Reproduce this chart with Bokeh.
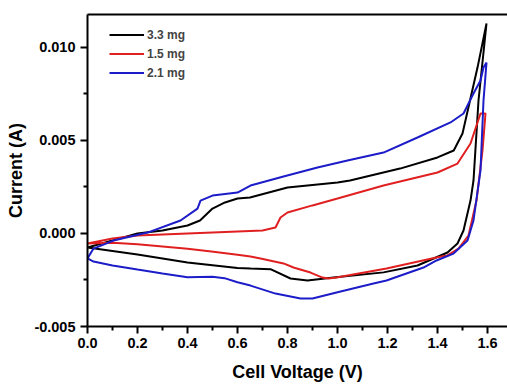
from bokeh.plotting import figure
from bokeh.models import (Range1d, FixedTicker, PrintfTickFormatter, LinearAxis,
                          Legend, LegendItem)
from bokeh.embed import file_html
from bokeh.resources import INLINE

# ---- data (Cell voltage V, current A) ----
labels = ["3.3 mg", "1.5 mg", "2.1 mg"]
colors = ["#000000", "#e02020", "#1c1cc8"]

v_33_fwd = [0, 0.1, 0.2, 0.3, 0.4, 0.45, 0.5, 0.55, 0.6, 0.65, 0.8, 1.0, 1.05, 1.25,
            1.4, 1.465, 1.5, 1.53, 1.56, 1.596]
i_33_fwd = [-0.00075, -0.00038, 0.0, 0.00016, 0.00043, 0.0007, 0.00134, 0.00167, 0.00188,
            0.00194, 0.00247, 0.00274, 0.00285, 0.00349, 0.00409, 0.00446, 0.00538,
            0.00715, 0.00892, 0.01129]
v_33_rev = [1.596, 1.564, 1.544, 1.532, 1.504, 1.48, 1.44, 1.32, 1.184, 0.984, 0.88,
            0.812, 0.732, 0.652, 0.6, 0.4, 0.2, 0.0]
i_33_rev = [0.01129, 0.00715, 0.00285, 0.00177, 0.00016, -0.00054, -0.00102, -0.00172,
            -0.00209, -0.00237, -0.00253, -0.00242, -0.00192, -0.00188, -0.00185,
            -0.00156, -0.00113, -0.00075]

v_15_fwd = [0, 0.1, 0.2, 0.4, 0.6, 0.7, 0.752, 0.772, 0.8, 0.9, 1.0, 1.184, 1.4, 1.48,
            1.532, 1.572, 1.592]
i_15_fwd = [-0.00054, -0.00027, -0.00011, 0.0, 0.00011, 0.00016, 0.00032, 0.00086,
            0.00113, 0.00151, 0.00188, 0.00258, 0.00328, 0.00376, 0.00484, 0.00645,
            0.00645]
v_15_rev = [1.592, 1.58, 1.556, 1.524, 1.484, 1.44, 1.4, 1.196, 0.996, 0.964, 0.94,
            0.892, 0.824, 0.784, 0.692, 0.652, 0.6, 0.504, 0.4, 0.2, 0.1, 0.0]
i_15_rev = [0.00645, 0.00446, 0.00177, -0.00011, -0.00081, -0.00118, -0.00128, -0.00188,
            -0.00237, -0.00242, -0.00237, -0.0021, -0.00183, -0.00161, -0.00134,
            -0.00124, -0.00114, -0.00098, -0.00082, -0.00058, -0.00050, -0.00054]

v_21_fwd = [0, 0.024, 0.104, 0.24, 0.372, 0.44, 0.452, 0.5, 0.6, 0.652, 0.784, 0.92,
            1.04, 1.184, 1.32, 1.452, 1.504, 1.544, 1.572, 1.584, 1.596]
i_21_fwd = [-0.00134, -0.00081, -0.00038, 0.00005, 0.0007, 0.00134, 0.00177, 0.00204,
            0.0022, 0.00258, 0.00306, 0.00355, 0.00392, 0.00435, 0.00516, 0.00597,
            0.00645, 0.00753, 0.00823, 0.00892, 0.00919]
v_21_rev = [1.596, 1.584, 1.572, 1.544, 1.52, 1.464, 1.396, 1.344, 1.196, 1.144, 0.996,
            0.9, 0.852, 0.752, 0.652, 0.6, 0.548, 0.5, 0.4, 0.3, 0.2, 0.1, 0.024, 0.0]
i_21_rev = [0.00919, 0.00715, 0.00339, 0.0007, -0.00038, -0.00108, -0.00145, -0.00183,
            -0.00253, -0.00269, -0.00317, -0.00349, -0.00349, -0.00323, -0.00280,
            -0.00262, -0.00240, -0.00233, -0.00235, -0.00215, -0.00194, -0.00172,
            -0.00151, -0.00134]

x_ticks = [0.0, 0.2, 0.4, 0.6, 0.8, 1.0, 1.2, 1.4, 1.6]
x_minor = [0.1, 0.3, 0.5, 0.7, 0.9, 1.1, 1.3, 1.5, 1.7]
y_ticks = [-0.005, 0.0, 0.005, 0.010]
y_minor = [-0.0025, 0.0025, 0.0075]

FONT = "Liberation Sans"

p = figure(width=507, height=385, output_backend="svg", toolbar_location=None,
           x_range=Range1d(0, 1.68), y_range=Range1d(-0.005, 0.011774),
           min_border_left=87, min_border_right=0, min_border_top=14,
           min_border_bottom=59, x_axis_label="Cell Voltage (V)",
           y_axis_label="Current (A)")
p.grid.visible = False
p.outline_line_color = None
p.background_fill_color = "white"

for ax, ticks, minor, fmt in ((p.xaxis[0], x_ticks, x_minor, "%.1f"),
                              (p.yaxis[0], y_ticks, y_minor, "%.3f")):
    ax.ticker = FixedTicker(ticks=ticks, minor_ticks=minor)
    ax.formatter = PrintfTickFormatter(format=fmt)
    ax.axis_line_width = 2
    ax.major_tick_line_width = 2
    ax.minor_tick_line_width = 2
    ax.major_tick_in = 0
    ax.major_tick_out = 7
    ax.minor_tick_in = 0
    ax.minor_tick_out = 4
    ax.major_label_text_font = FONT
    ax.major_label_text_font_style = "bold"
    ax.major_label_text_font_size = "14.5px"
    ax.major_label_text_color = "black"
    ax.axis_label_text_font = FONT
    ax.axis_label_text_font_style = "bold"
    ax.axis_label_text_font_size = "18px"
    ax.axis_label_text_color = "black"
p.xaxis[0].major_label_standoff = 4
p.xaxis[0].axis_label_standoff = 11
p.yaxis[0].major_label_standoff = 5
p.yaxis[0].axis_label_standoff = 5

top = LinearAxis(ticker=FixedTicker(ticks=[]), axis_line_width=2,
                 major_label_text_font_size="0px", major_tick_line_color=None,
                 minor_tick_line_color=None)
p.add_layout(top, "above")

series = [
    (v_33_fwd + v_33_rev, i_33_fwd + i_33_rev),
    (v_15_fwd + v_15_rev, i_15_fwd + i_15_rev),
    (v_21_fwd + v_21_rev, i_21_fwd + i_21_rev),
]
items = []
for (xs, ys), lab, col in zip(series, labels, colors):
    r = p.line(xs, ys, line_color=col, line_width=2)
    items.append(LegendItem(label=lab, renderers=[r]))

leg = Legend(items=items, location=(22, 245))
leg.margin = 0
leg.padding = 2
leg.spacing = 2
leg.glyph_width = 35
leg.glyph_height = 17
leg.label_height = 17
leg.label_standoff = 3
leg.label_text_font = FONT
leg.label_text_font_style = "bold"
leg.label_text_font_size = "12px"
leg.border_line_color = None
leg.background_fill_alpha = 0
p.add_layout(leg, "center")

open("out.html", "w").write(file_html(p, INLINE))
